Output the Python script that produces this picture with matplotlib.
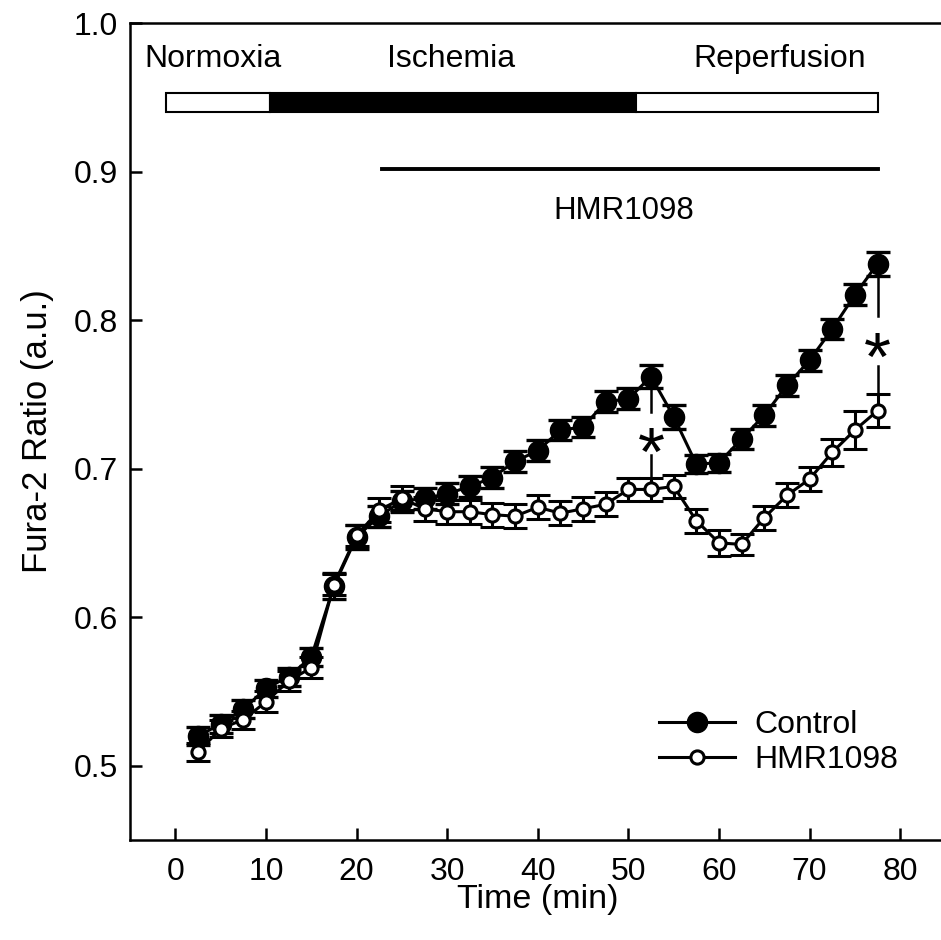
import matplotlib
matplotlib.use("Agg")
import matplotlib.pyplot as plt
from matplotlib.lines import Line2D
from matplotlib.patches import Rectangle

plt.rcParams['font.family'] = ['Liberation Sans', 'DejaVu Sans']

time_min = [2.5, 5, 7.5, 10, 12.5, 15, 17.5, 20, 22.5, 25, 27.5, 30, 32.5, 35, 37.5, 40,
            42.5, 45, 47.5, 50, 52.5, 55, 57.5, 60, 62.5, 65, 67.5, 70, 72.5, 75, 77.5]

control = [0.520, 0.528, 0.538, 0.552, 0.560, 0.573, 0.621, 0.654, 0.668, 0.678, 0.680,
           0.683, 0.688, 0.694, 0.705, 0.712, 0.726, 0.728, 0.745, 0.747, 0.762, 0.735,
           0.703, 0.704, 0.720, 0.736, 0.756, 0.773, 0.794, 0.817, 0.838]
control_err = [0.006, 0.006, 0.006, 0.006, 0.006, 0.006, 0.009, 0.008, 0.007, 0.007, 0.007,
               0.007, 0.007, 0.007, 0.007, 0.007, 0.007, 0.007, 0.007, 0.007, 0.008, 0.008,
               0.006, 0.006, 0.007, 0.007, 0.007, 0.007, 0.007, 0.007, 0.008]

hmr = [0.509, 0.525, 0.531, 0.543, 0.557, 0.566, 0.622, 0.655, 0.672, 0.680, 0.673,
       0.671, 0.671, 0.669, 0.668, 0.674, 0.670, 0.673, 0.676, 0.686, 0.686, 0.688,
       0.665, 0.650, 0.649, 0.667, 0.682, 0.693, 0.711, 0.726, 0.739]
hmr_err = [0.006, 0.006, 0.006, 0.007, 0.007, 0.007, 0.007, 0.007, 0.008, 0.008, 0.008,
           0.008, 0.008, 0.008, 0.008, 0.008, 0.008, 0.008, 0.008, 0.008, 0.008, 0.008,
           0.008, 0.0085, 0.007, 0.008, 0.008, 0.008, 0.009, 0.013, 0.011]

phase_labels = ["Normoxia", "Ischemia", "Reperfusion"]
phase_label_x = [4.2, 30.4, 66.7]
phase_edges = [-1.0, 10.4, 50.8, 77.6]
phase_fill = ["white", "black", "white"]
drug_span = [22.8, 77.6]
drug_label = "HMR1098"
sig_times = [52.5, 77.5]

fig = plt.figure(figsize=(9.41, 9.40), dpi=100)
ax = fig.add_axes([0.1382, 0.1064, 0.8666, 0.8691])
ax.set_xlim(-5, 85)
ax.set_ylim(0.45, 1.0)

lw = 2.2
ax.errorbar(time_min, control, yerr=control_err, fmt='-o', color='black', lw=lw,
            ms=14.5, mfc='black', mec='black', elinewidth=2.2, capsize=8.5, capthick=2.4, zorder=3)
ax.errorbar(time_min, hmr, yerr=hmr_err, fmt='-o', color='black', lw=lw,
            ms=9.5, mfc='white', mec='black', mew=2.2, elinewidth=2.2, capsize=8.5, capthick=2.4, zorder=4)

# phase bar
for i in range(3):
    ax.add_patch(Rectangle((phase_edges[i], 0.940), phase_edges[i + 1] - phase_edges[i], 0.013,
                           facecolor=phase_fill[i], edgecolor='black', lw=1.5, zorder=5))
fs_txt = 23
for lab, xp in zip(phase_labels, phase_label_x):
    ax.text(xp, 0.976, lab, ha='center', va='center', fontsize=fs_txt)

ax.plot(drug_span, [0.9017, 0.9017], color='black', lw=2.8)
ax.text(49.5, 0.8735, drug_label, ha='center', va='center', fontsize=22.5)

# significance markers
ax.plot([sig_times[0], sig_times[0]], [0.760, 0.738], color='black', lw=1.8)
ax.plot([sig_times[0], sig_times[0]], [0.709, 0.695], color='black', lw=1.8)
ax.text(sig_times[0], 0.708, "*", ha='center', va='center', fontsize=50)
ax.plot([sig_times[1], sig_times[1]], [0.829, 0.803], color='black', lw=1.8)
ax.plot([sig_times[1], sig_times[1]], [0.769, 0.750], color='black', lw=1.8)
ax.text(sig_times[1], 0.772, "*", ha='center', va='center', fontsize=50)

ax.set_xticks([0, 10, 20, 30, 40, 50, 60, 70, 80])
ax.set_yticks([0.5, 0.6, 0.7, 0.8, 0.9, 1.0])
ax.set_yticklabels(["0.5", "0.6", "0.7", "0.8", "0.9", "1.0"])
ax.tick_params(direction='in', length=8.5, width=1.8, labelsize=23)
ax.tick_params(axis='x', pad=12)
ax.tick_params(axis='y', pad=9)
for s in ['left', 'bottom', 'top']:
    ax.spines[s].set_linewidth(1.8)
ax.spines['right'].set_visible(False)

ax.set_xlabel("Time (min)", fontsize=24.5, labelpad=-2)
ax.set_ylabel("Fura-2 Ratio (a.u.)", fontsize=25, labelpad=14)

handles = [Line2D([], [], color='black', lw=lw, marker='o', ms=14.5, mfc='black', mec='black'),
           Line2D([], [], color='black', lw=lw, marker='o', ms=9.5, mfc='white', mec='black', mew=2.2)]
leg = ax.legend(handles, ["Control", "HMR1098"], loc='upper left',
                bbox_to_anchor=(0.700, 0.245), bbox_transform=fig.transFigure,
                frameon=False, fontsize=23, handlelength=2.4, handletextpad=0.6,
                labelspacing=0.18, borderpad=0, borderaxespad=0)

fig.savefig("out.png", dpi=100)
